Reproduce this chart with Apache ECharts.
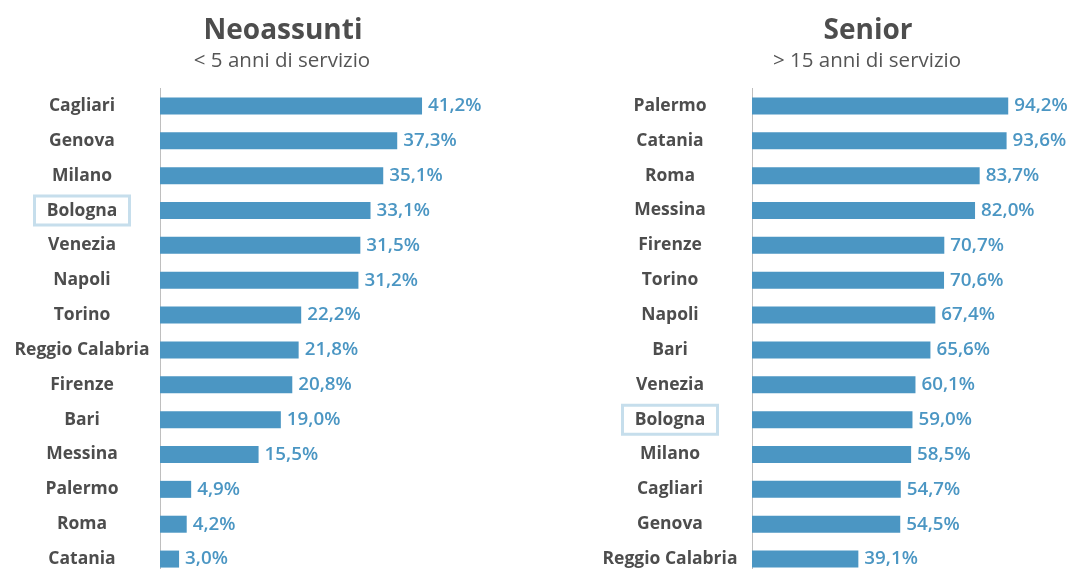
<!DOCTYPE html>
<html><head><meta charset="utf-8">
<script src="https://cdn.jsdelivr.net/npm/echarts@6/dist/echarts.min.js"></script>
<style>html,body{margin:0;padding:0;background:#fff;overflow:hidden}#c{width:1072px;height:590px}</style>
</head><body><div id="c"></div>
<script>
const leftTitle = "Neoassunti";
const leftSubtitle = "< 5 anni di servizio";
const leftCities = ["Cagliari","Genova","Milano","Bologna","Venezia","Napoli","Torino","Reggio Calabria","Firenze","Bari","Messina","Palermo","Roma","Catania"];
const leftValues = [41.2,37.3,35.1,33.1,31.5,31.2,22.2,21.8,20.8,19.0,15.5,4.9,4.2,3.0];

const rightTitle = "Senior";
const rightSubtitle = "> 15 anni di servizio";
const rightCities = ["Palermo","Catania","Roma","Messina","Firenze","Torino","Napoli","Bari","Venezia","Bologna","Milano","Cagliari","Genova","Reggio Calabria"];
const rightValues = [94.2,93.6,83.7,82.0,70.7,70.6,67.4,65.6,60.1,59.0,58.5,54.7,54.5,39.1];

const highlight = "Bologna";
const FONT = "'Open Sans', 'Noto Sans', sans-serif";
const BAR = "#4b96c3";
const TXT = "#4d4d4d";

function yAx(cities, gi, margin){
  return {
    type:'category', gridIndex:gi, data:cities, inverse:true,
    axisTick:{show:false},
    axisLine:{show:true, lineStyle:{color:'#b8b8b8', type:'dotted', width:1}},
    axisLabel:{
      margin:margin, align:'center', color:TXT, fontFamily:FONT, fontWeight:'bold', fontSize:17.5,
      formatter: v => v===highlight ? '{box|'+v+'}' : v,
      rich:{box:{borderColor:'#c6deec', borderWidth:3, width:89, height:28, align:'center', padding:[1,3,0,3],
        color:TXT, fontFamily:FONT, fontWeight:'bold', fontSize:17.5}}
    }
  };
}
function xAx(gi, max){
  return {type:'value', gridIndex:gi, min:0, max:max, show:false, splitLine:{show:false}};
}
function ser(vals, gi){
  return {
    type:'bar', xAxisIndex:gi, yAxisIndex:gi, data:vals, barWidth:17,
    itemStyle:{color:BAR},
    label:{show:true, position:'right', distance:6, color:'#4b96c3', fontFamily:FONT, fontWeight:600, fontSize:18.8,
      formatter: p => p.value.toFixed(1).replace('.',',') + '%'}
  };
}
const chart = echarts.init(document.getElementById('c'));
chart.setOption({
  animation:false,
  title:[
    {text:leftTitle, left:278, top:12, textAlign:'center', textStyle:{fontFamily:FONT, fontWeight:'bold', fontSize:28, color:TXT}},
    {text:leftSubtitle, left:277, top:46, textAlign:'center', textStyle:{fontFamily:FONT, fontWeight:'normal', fontSize:20.5, color:'#555'}},
    {text:rightTitle, left:863, top:12, textAlign:'center', textStyle:{fontFamily:FONT, fontWeight:'bold', fontSize:28, color:TXT}},
    {text:rightSubtitle, left:862, top:46, textAlign:'center', textStyle:{fontFamily:FONT, fontWeight:'normal', fontSize:20.5, color:'#555'}}
  ],
  grid:[
    {left:160, top:88.5, width:318, height:488},
    {left:752, top:88.5, width:272, height:488}
  ],
  xAxis:[xAx(0,50), xAx(1,100)],
  yAxis:[yAx(leftCities,0,78), yAx(rightCities,1,82)],
  series:[ser(leftValues,0), ser(rightValues,1)]
});
</script></body></html>
